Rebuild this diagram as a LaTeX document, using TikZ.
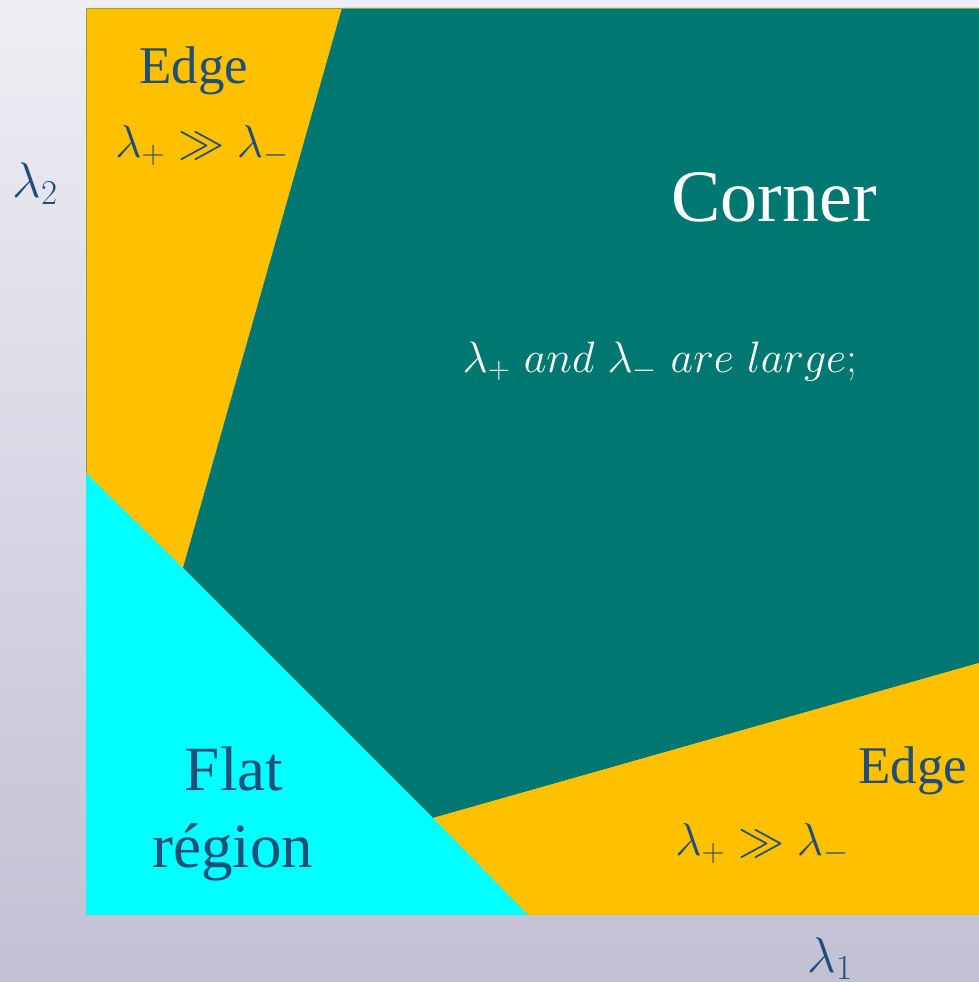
\RequirePackage{fix-cm}
\documentclass[tikz,border=0pt]{standalone}
\usepackage{fontspec}
\IfFontExistsTF{LiberationSerif-Regular.ttf}
  {\newfontfamily\tnr{LiberationSerif}[Extension=.ttf, UprightFont=*-Regular, BoldFont=*-Bold, ItalicFont=*-Italic]}
  {\newfontfamily\tnr{Liberation Serif}}
\definecolor{edgeyellow}{RGB}{255,192,0}
\definecolor{cornerteal}{RGB}{0,119,112}
\definecolor{flatcyan}{RGB}{0,255,255}
\definecolor{labelblue}{RGB}{31,78,121}
\definecolor{bgtop}{RGB}{238,238,244}
\definecolor{bgbottom}{RGB}{194,192,211}
\definecolor{frameolive}{RGB}{150,160,60}
\tikzset{
  lbl/.style={anchor=base, inner sep=0pt, text=labelblue},
  bigword/.style={lbl, font=\tnr\fontsize{53}{63}\selectfont},
  mathlbl/.style={lbl, font=\fontsize{46}{55}\selectfont},
}
\begin{document}
\begin{tikzpicture}[x=1pt,y=-1pt]
\useasboundingbox (0,0) rectangle (979,982);
\shade[top color=bgtop, bottom color=bgbottom] (0,0) rectangle (979,982);
% region corners
\coordinate (A) at (86,8);
\coordinate (B) at (342,8);
\coordinate (C) at (979,8);
\coordinate (D) at (979,663);
\coordinate (E) at (979,915);
\coordinate (F) at (528,915);
\coordinate (G) at (433,818);
\coordinate (H) at (183,568);
\coordinate (I) at (86,473);
\coordinate (J) at (86,915);
\fill[edgeyellow] (A) -- (B) -- (H) -- (I) -- cycle;
\fill[cornerteal] (B) -- (C) -- (D) -- (G) -- (H) -- cycle;
\fill[edgeyellow] (G) -- (D) -- (E) -- (F) -- cycle;
\fill[flatcyan] (I) -- (H) -- (G) -- (F) -- (J) -- cycle;
\draw[frameolive, line width=0.8pt] (I) -- (A) -- (C);
% labels
\node[bigword] (edgetop) at (194,83) {Edge};
\node[mathlbl] (ineqtop) at (202,157) {$\lambda_+ \gg \lambda_-$};
\node[lbl, text=white, font=\tnr\fontsize{74}{88}\selectfont] (corner) at (774,221) {Corner};
\node[lbl, text=white, font=\fontsize{44}{53}\selectfont] (large) at (660,372) {$\lambda_+\ and\ \lambda_-\ are\ large$;};
\node[lbl, font=\tnr\fontsize{63}{76}\selectfont] (flat) at (234,790) {Flat};
\node[lbl, font=\tnr\fontsize{63}{76}\selectfont] (region) at (233,867) {région};
\node[bigword] (edgebot) at (913,783) {Edge};
\node[mathlbl] (ineqbot) at (762,855) {$\lambda_+ \gg \lambda_-$};
\node[mathlbl, font=\fontsize{50}{60}\selectfont] (ltwo) at (35,197) {$\lambda_2$};
\node[mathlbl, font=\fontsize{50}{60}\selectfont] (lone) at (830,972) {$\lambda_1$};
\end{tikzpicture}
\end{document}
